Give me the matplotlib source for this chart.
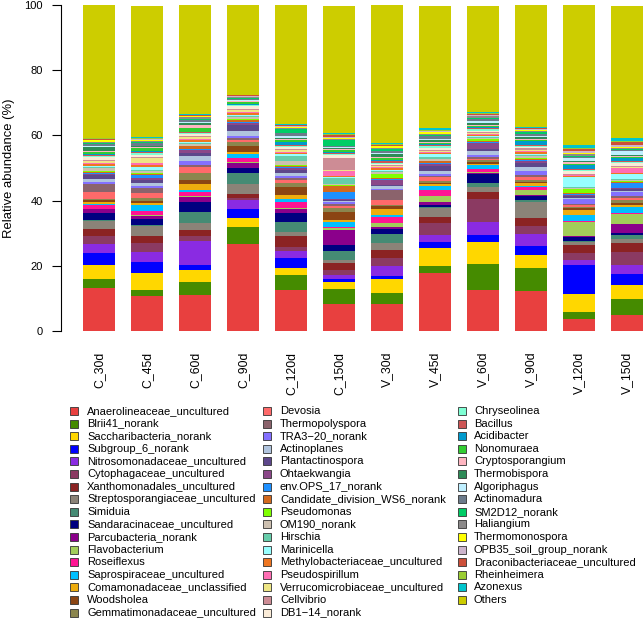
import numpy as np
import matplotlib
matplotlib.use("Agg")
import matplotlib.pyplot as plt
from matplotlib.patches import Rectangle

plt.rcParams['font.family'] = ['Liberation Sans', 'DejaVu Sans']

samples = ["C_30d", "C_45d", "C_60d", "C_90d", "C_120d", "C_150d",
           "V_30d", "V_45d", "V_60d", "V_90d", "V_120d", "V_150d"]

taxa = ["Anaerolineaceae_uncultured", "Blrii41_norank", "Saccharibacteria_norank",
        "Subgroup_6_norank", "Nitrosomonadaceae_uncultured", "Cytophagaceae_uncultured",
        "Xanthomonadales_uncultured", "Streptosporangiaceae_uncultured", "Simiduia",
        "Sandaracinaceae_uncultured", "Parcubacteria_norank", "Flavobacterium",
        "Roseiflexus", "Saprospiraceae_uncultured", "Comamonadaceae_unclassified",
        "Woodsholea", "Gemmatimonadaceae_uncultured",
        "Devosia", "Thermopolyspora", "TRA3\u221220_norank", "Actinoplanes",
        "Plantactinospora", "Ohtaekwangia", "env.OPS_17_norank",
        "Candidate_division_WS6_norank", "Pseudomonas", "OM190_norank", "Hirschia",
        "Marinicella", "Methylobacteriaceae_uncultured", "Pseudospirillum",
        "Verrucomicrobiaceae_uncultured", "Cellvibrio", "DB1\u221214_norank",
        "Chryseolinea", "Bacillus", "Acidibacter", "Nonomuraea", "Cryptosporangium",
        "Thermobispora", "Algoriphagus", "Actinomadura", "SM2D12_norank", "Haliangium",
        "Thermomonospora", "OPB35_soil_group_norank", "Draconibacteriaceae_uncultured",
        "Rheinheimera", "Azonexus", "Others"]

colors = ["#E8403F", "#458B00", "#FFD700", "#0000FF", "#8A2BE2", "#8B3A62",
          "#8B2323", "#8B8378", "#458B74", "#000080", "#8B008B", "#A2CD5A",
          "#FF1493", "#00BFFF", "#EEAD0E", "#8B4513", "#8B864E",
          "#FF6A6A", "#8B636C", "#8470FF", "#B0C4DE", "#5D478B", "#8B4789",
          "#1E90FF", "#D2691E", "#7FFF00", "#CDC0B0", "#66CDAA", "#97FFFF",
          "#EE7621", "#FF6EB4", "#EEE685", "#CD8C95", "#FAEBD7",
          "#7FFFD4", "#CD5555", "#009ACD", "#32CD32", "#FFB6C1", "#2E8B57",
          "#BFEFFF", "#6C7B8B", "#00CD66", "#8B8989", "#FFFF00", "#CDB5CD",
          "#CD4F39", "#9ACD32", "#00C5CD", "#CDCD00"]

C_30d = [13.2, 2.9, 4.2, 3.7, 2.6, 2.4, 2.2, 2.5, 0.2, 2.2, 1.2, 0.2, 1.0, 0.6, 0.5, 0.5, 0.4,
         2.2, 2.5, 0.5, 0.8, 1.2, 0.5, 0.3, 0.4, 0.3, 0.7, 0.4, 0.3, 0.5, 0.4, 0.8, 0.3, 0.7,
         0.3, 0.4, 0.2, 0.8, 0.3, 1.0, 0.3, 0.8, 0.4, 0.2, 0.5, 0.2, 0.2, 0.2, 0.2, 40.7]
C_45d = [10.8, 1.8, 5.3, 3.4, 3.0, 2.7, 2.2, 3.1, 0.2, 1.9, 0.9, 0.2, 1.4, 1.7, 0.8, 0.6, 0.8,
         1.6, 1.5, 0.5, 0.9, 1.0, 0.6, 0.8, 0.6, 0.3, 0.5, 0.4, 0.7, 0.8, 0.4, 1.6, 0.3, 0.6,
         0.6, 0.4, 0.3, 0.8, 0.3, 0.3, 0.3, 0.8, 0.3, 0.3, 0.3, 0.2, 0.2, 0.2, 0.2, 40.3]
C_60d = [11.0, 4.1, 3.6, 1.6, 7.3, 1.6, 1.8, 2.2, 3.3, 3.0, 1.7, 0.2, 1.3, 0.7, 1.8, 1.2, 2.2,
         1.6, 0.8, 1.2, 1.4, 1.1, 0.8, 0.4, 0.8, 0.2, 0.4, 0.3, 0.3, 0.8, 0.3, 0.6, 0.3, 0.4,
         0.3, 0.3, 0.2, 1.2, 1.0, 0.4, 0.3, 0.8, 0.3, 0.5, 0.2, 0.2, 0.2, 0.2, 0.2, 33.4]
C_90d = [26.7, 5.1, 2.9, 2.6, 2.9, 0.7, 1.2, 3.1, 3.2, 1.7, 1.5, 0.2, 1.4, 1.0, 0.8, 1.6, 1.3,
         0.7, 0.5, 0.8, 1.6, 1.8, 0.5, 0.3, 0.6, 0.2, 0.8, 0.3, 0.3, 0.6, 0.3, 0.5, 0.3, 1.0,
         0.2, 0.2, 0.2, 0.5, 0.3, 0.3, 0.2, 0.4, 0.2, 0.2, 0.2, 0.2, 0.2, 0.1, 0.1, 28.5]
C_120d = [12.7, 4.6, 1.9, 3.2, 2.0, 1.3, 3.3, 1.3, 3.1, 2.8, 1.3, 0.2, 2.0, 0.7, 1.2, 2.7, 1.0,
          1.0, 0.6, 0.6, 1.0, 1.0, 0.5, 0.3, 0.4, 0.3, 1.3, 1.5, 0.4, 0.4, 0.3, 0.5, 0.3, 0.8,
          0.3, 0.3, 0.8, 0.6, 0.3, 0.5, 0.4, 0.9, 1.3, 0.4, 0.3, 0.2, 0.3, 0.2, 0.3, 37.4]
C_150d = [8.4, 4.5, 2.0, 1.0, 1.3, 1.5, 2.2, 0.8, 2.9, 1.9, 4.4, 0.6, 0.3, 1.7, 0.7, 2.4, 1.0,
          0.8, 0.5, 0.6, 0.3, 0.4, 0.3, 2.2, 1.8, 0.3, 0.4, 1.6, 0.3, 0.4, 1.5, 0.3, 3.9, 0.8,
          0.4, 0.3, 0.3, 0.5, 0.3, 0.3, 0.3, 0.3, 2.0, 0.3, 0.3, 0.3, 0.6, 0.3, 0.2, 39.1]
V_30d = [8.4, 3.3, 4.1, 1.0, 3.1, 2.6, 2.4, 2.0, 2.8, 1.7, 0.5, 1.1, 1.9, 0.8, 1.7, 0.8, 0.4,
         1.6, 2.9, 0.5, 0.8, 0.5, 1.4, 0.3, 0.4, 1.2, 0.6, 0.4, 0.3, 0.4, 0.3, 0.3, 0.3, 0.5,
         0.3, 0.6, 0.3, 0.6, 0.3, 0.8, 0.3, 0.8, 0.4, 0.3, 0.6, 0.3, 0.2, 0.3, 0.3, 42.3]
V_45d = [17.8, 2.0, 5.6, 2.0, 2.2, 3.4, 2.0, 2.6, 0.3, 0.7, 1.0, 1.7, 1.8, 1.5, 0.4, 0.4, 0.5,
         1.2, 0.5, 0.6, 1.0, 1.5, 0.5, 0.3, 0.5, 0.3, 0.6, 0.5, 0.8, 0.4, 0.3, 0.3, 0.3, 0.5,
         0.8, 0.3, 0.3, 0.4, 0.3, 0.5, 0.3, 0.8, 0.3, 0.5, 0.4, 0.3, 0.3, 0.3, 0.5, 37.5]
V_60d = [12.7, 7.9, 6.7, 2.2, 3.9, 7.2, 2.0, 1.7, 1.2, 2.7, 0.3, 0.3, 1.0, 1.0, 0.5, 0.5, 0.6,
         0.5, 0.6, 0.6, 1.0, 0.7, 1.8, 0.3, 0.3, 0.6, 0.3, 0.3, 0.3, 0.3, 0.3, 0.3, 0.3, 0.4,
         0.6, 0.4, 0.3, 0.3, 0.4, 0.6, 0.5, 0.6, 0.3, 0.5, 0.3, 0.3, 0.3, 0.3, 0.3, 32.4]
V_90d = [12.2, 7.2, 3.8, 2.9, 3.8, 2.4, 2.4, 4.8, 0.7, 1.1, 0.4, 1.5, 1.0, 0.4, 0.7, 0.5, 0.6,
         0.8, 0.5, 1.3, 1.2, 1.3, 0.6, 0.3, 0.3, 0.5, 0.4, 0.4, 0.4, 0.4, 0.5, 0.3, 0.6, 0.3,
         0.3, 0.3, 1.2, 0.3, 0.3, 0.5, 0.3, 0.8, 0.6, 0.3, 0.4, 0.2, 0.2, 0.2, 0.3, 37.3]
V_120d = [3.8, 2.0, 5.5, 8.8, 1.7, 2.2, 2.4, 1.0, 0.3, 1.2, 0.3, 4.1, 0.3, 2.0, 1.5, 0.5, 0.5,
          0.4, 0.4, 1.5, 0.5, 0.4, 0.3, 0.3, 0.3, 1.5, 0.3, 0.3, 2.8, 0.3, 0.3, 0.3, 0.3, 0.8,
          0.4, 0.3, 1.0, 0.3, 0.8, 0.3, 1.0, 0.3, 0.3, 0.5, 0.3, 0.5, 0.6, 0.4, 0.9, 43.0]
V_150d = [5.0, 4.9, 4.1, 3.5, 2.6, 4.1, 2.9, 1.2, 1.3, 0.6, 2.6, 3.1, 0.3, 1.8, 0.7, 0.6, 0.8,
          0.7, 0.5, 1.2, 0.5, 0.5, 0.3, 1.5, 0.3, 0.4, 0.3, 0.3, 1.6, 0.3, 1.5, 0.3, 0.3, 1.0,
          0.3, 0.3, 0.8, 0.3, 0.3, 0.3, 1.2, 0.3, 0.3, 0.4, 0.3, 0.6, 1.0, 0.3, 0.8, 40.6]

data = np.array([C_30d, C_45d, C_60d, C_90d, C_120d, C_150d,
                 V_30d, V_45d, V_60d, V_90d, V_120d, V_150d])

W, H = 643, 621
fig = plt.figure(figsize=(W / 100, H / 100), dpi=100)
ax = fig.add_axes([61 / W, (H - 331) / H, (W - 61) / W, 326 / H])

x = 1.0 + 1.5 * np.arange(len(samples))
bottom = np.zeros(len(samples))
for j in range(len(taxa)):
    ax.bar(x, data[:, j], width=1.0, bottom=bottom, color=colors[j], linewidth=0)
    bottom += data[:, j]

ax.set_xlim(-0.1875, 18.0)
ax.set_ylim(0, 100)
for s in ['top', 'right', 'bottom']:
    ax.spines[s].set_visible(False)
ax.spines['left'].set_bounds(0, 100)
ax.spines['left'].set_linewidth(0.8)
ax.set_yticks([0, 20, 40, 60, 80, 100])
ax.tick_params(axis='y', length=6.5, width=0.8, pad=6.5, labelsize=8)
ax.set_xticks(x)
ax.set_xticklabels(samples, rotation=90, fontsize=8.8)
ax.tick_params(axis='x', length=0, pad=15)

fig.text(9 / W, 1 - 168 / H, 'Relative abundance (%)', rotation=90,
         ha='center', va='center', fontsize=9.4)

sq_x = [70, 263, 458]
tx_x = [87, 280, 474]
for k, name in enumerate(taxa):
    col, row = divmod(k, 17)
    yc = 411 + 12.6 * row
    fig.add_artist(Rectangle((sq_x[col] / W, 1 - (yc + 4) / H), 8 / W, 8 / H,
                             transform=fig.transFigure, facecolor=colors[k],
                             edgecolor='#333333', linewidth=0.6))
    fig.text(tx_x[col] / W, 1 - yc / H, name, ha='left', va='center', fontsize=8)

fig.savefig('out.png', dpi=100)
